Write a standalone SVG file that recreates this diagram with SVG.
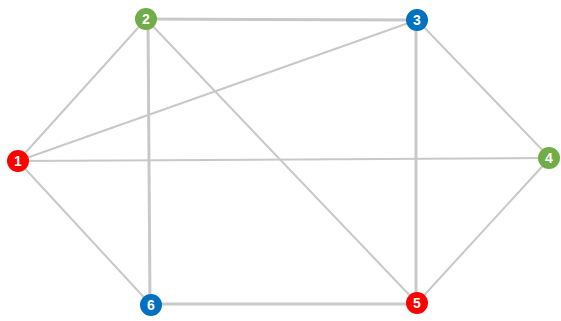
<svg xmlns="http://www.w3.org/2000/svg" width="561" height="321" viewBox="0 0 561 321">
<style>
.e{stroke:#c8c8c8;stroke-width:2;fill:none}
.t{stroke-width:3}
.n text{font-family:"Liberation Sans",Arial,sans-serif;font-size:14px;font-weight:bold;fill:#fff;text-anchor:middle}
.r{fill:#ff0000}.g{fill:#70ad47}.b{fill:#0070c0}
</style>
<rect width="561" height="321" fill="#fff"/>
<g id="edges">
<line class="e" x1="18" y1="161" x2="146" y2="19"/>
<line class="e" x1="18" y1="161" x2="417" y2="20"/>
<line class="e" x1="18" y1="161" x2="550" y2="158"/>
<line class="e" x1="18" y1="161" x2="151" y2="305"/>
<line class="e t" x1="146" y1="19" x2="417" y2="20"/>
<line class="e t" x1="148" y1="19" x2="150" y2="305"/>
<line class="e" x1="146" y1="19" x2="417" y2="303"/>
<line class="e t" x1="416" y1="20" x2="416" y2="303"/>
<line class="e" x1="417" y1="20" x2="550" y2="158"/>
<line class="e" x1="550" y1="158" x2="417" y2="303"/>
<line class="e t" x1="151" y1="304" x2="417" y2="304"/>
</g>
<g id="n1" class="n"><circle class="r" cx="18" cy="161" r="11"/><text x="18" y="166">1</text></g>
<g id="n2" class="n"><circle class="g" cx="146" cy="19" r="11"/><text x="146" y="24">2</text></g>
<g id="n3" class="n"><circle class="b" cx="417" cy="20" r="11"/><text x="417" y="25">3</text></g>
<g id="n4" class="n"><circle class="g" cx="549" cy="158" r="11"/><text x="549" y="163">4</text></g>
<g id="n5" class="n"><circle class="r" cx="417" cy="303" r="11"/><text x="417" y="308">5</text></g>
<g id="n6" class="n"><circle class="b" cx="151" cy="305" r="11"/><text x="151" y="310">6</text></g>
</svg>
